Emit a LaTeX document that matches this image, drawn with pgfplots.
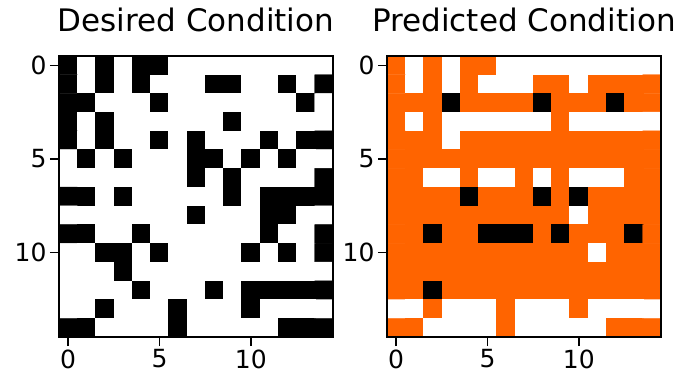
\documentclass[border=0pt]{standalone}
\usepackage{pgfplots}
\pgfplotsset{compat=1.18}
\usepackage{fontspec}
\setmainfont{DejaVu Sans}
\pgfplotsset{
  gridax/.style={
    scale only axis, width=274pt, height=281pt,
    xmin=-0.5, xmax=14.5, ymin=-0.5, ymax=14.5, y dir=reverse,
    enlargelimits=false, axis on top,
    xtick={0,5,10}, ytick={0,5,10}, tick pos=left,
    tick align=outside, major tick length=9pt,
    tick style={line width=1.4pt, black},
    axis line style={line width=1.4pt, black},
    tick label style={font=\fontsize{25}{30}\selectfont},
    /pgf/number format/assume math mode=true,
    title style={font=\fontsize{31}{37}\selectfont, anchor=base, at={(0.5,1)}, yshift=18pt},
    colormap={gridmap}{rgb255=(255,255,255) rgb255=(0,0,0) rgb255=(255,100,0)},
    colormap access=direct,
    anchor=south west,
  },
  cells/.style={matrix plot*, mesh/cols=15, point meta=explicit},
}
\begin{document}
\begin{tikzpicture}
\useasboundingbox (0,0) rectangle (680pt,379pt);
\begin{axis}[gridax, at={(59pt,42pt)}, title={Desired Condition}]
\addplot[cells] table[row sep=\\, meta=c] {
x y c\\
0 0 1\\ 1 0 0\\ 2 0 1\\ 3 0 0\\ 4 0 1\\ 5 0 1\\ 6 0 0\\ 7 0 0\\ 8 0 0\\ 9 0 0\\ 10 0 0\\ 11 0 0\\ 12 0 0\\ 13 0 0\\ 14 0 0\\
0 1 1\\ 1 1 0\\ 2 1 1\\ 3 1 0\\ 4 1 1\\ 5 1 0\\ 6 1 0\\ 7 1 0\\ 8 1 1\\ 9 1 1\\ 10 1 0\\ 11 1 0\\ 12 1 1\\ 13 1 0\\ 14 1 1\\
0 2 1\\ 1 2 1\\ 2 2 0\\ 3 2 0\\ 4 2 0\\ 5 2 1\\ 6 2 0\\ 7 2 0\\ 8 2 0\\ 9 2 0\\ 10 2 0\\ 11 2 0\\ 12 2 0\\ 13 2 1\\ 14 2 0\\
0 3 1\\ 1 3 0\\ 2 3 1\\ 3 3 0\\ 4 3 0\\ 5 3 0\\ 6 3 0\\ 7 3 0\\ 8 3 0\\ 9 3 1\\ 10 3 0\\ 11 3 0\\ 12 3 0\\ 13 3 0\\ 14 3 0\\
0 4 1\\ 1 4 0\\ 2 4 1\\ 3 4 0\\ 4 4 0\\ 5 4 1\\ 6 4 0\\ 7 4 1\\ 8 4 0\\ 9 4 0\\ 10 4 0\\ 11 4 1\\ 12 4 0\\ 13 4 1\\ 14 4 1\\
0 5 0\\ 1 5 1\\ 2 5 0\\ 3 5 1\\ 4 5 0\\ 5 5 0\\ 6 5 0\\ 7 5 1\\ 8 5 1\\ 9 5 0\\ 10 5 1\\ 11 5 0\\ 12 5 1\\ 13 5 0\\ 14 5 0\\
0 6 0\\ 1 6 0\\ 2 6 0\\ 3 6 0\\ 4 6 0\\ 5 6 0\\ 6 6 0\\ 7 6 1\\ 8 6 0\\ 9 6 1\\ 10 6 0\\ 11 6 0\\ 12 6 0\\ 13 6 0\\ 14 6 1\\
0 7 1\\ 1 7 1\\ 2 7 0\\ 3 7 1\\ 4 7 0\\ 5 7 0\\ 6 7 0\\ 7 7 0\\ 8 7 0\\ 9 7 1\\ 10 7 0\\ 11 7 1\\ 12 7 1\\ 13 7 1\\ 14 7 1\\
0 8 0\\ 1 8 0\\ 2 8 0\\ 3 8 0\\ 4 8 0\\ 5 8 0\\ 6 8 0\\ 7 8 1\\ 8 8 0\\ 9 8 0\\ 10 8 0\\ 11 8 1\\ 12 8 1\\ 13 8 0\\ 14 8 0\\
0 9 1\\ 1 9 1\\ 2 9 0\\ 3 9 0\\ 4 9 1\\ 5 9 0\\ 6 9 0\\ 7 9 0\\ 8 9 0\\ 9 9 0\\ 10 9 0\\ 11 9 1\\ 12 9 0\\ 13 9 0\\ 14 9 1\\
0 10 0\\ 1 10 0\\ 2 10 1\\ 3 10 1\\ 4 10 0\\ 5 10 1\\ 6 10 0\\ 7 10 0\\ 8 10 0\\ 9 10 0\\ 10 10 1\\ 11 10 0\\ 12 10 1\\ 13 10 0\\ 14 10 1\\
0 11 0\\ 1 11 0\\ 2 11 0\\ 3 11 1\\ 4 11 0\\ 5 11 0\\ 6 11 0\\ 7 11 0\\ 8 11 0\\ 9 11 0\\ 10 11 0\\ 11 11 0\\ 12 11 0\\ 13 11 0\\ 14 11 0\\
0 12 0\\ 1 12 0\\ 2 12 0\\ 3 12 0\\ 4 12 1\\ 5 12 0\\ 6 12 0\\ 7 12 0\\ 8 12 1\\ 9 12 0\\ 10 12 1\\ 11 12 1\\ 12 12 1\\ 13 12 1\\ 14 12 1\\
0 13 0\\ 1 13 0\\ 2 13 1\\ 3 13 0\\ 4 13 0\\ 5 13 0\\ 6 13 1\\ 7 13 0\\ 8 13 0\\ 9 13 0\\ 10 13 1\\ 11 13 0\\ 12 13 0\\ 13 13 0\\ 14 13 0\\
0 14 1\\ 1 14 1\\ 2 14 0\\ 3 14 0\\ 4 14 0\\ 5 14 0\\ 6 14 1\\ 7 14 0\\ 8 14 0\\ 9 14 0\\ 10 14 0\\ 11 14 0\\ 12 14 1\\ 13 14 1\\ 14 14 1\\
};
\end{axis}
\begin{axis}[gridax, at={(387pt,42pt)}, title={Predicted Condition}]
\addplot[cells] table[row sep=\\, meta=c] {
x y c\\
0 0 2\\ 1 0 0\\ 2 0 2\\ 3 0 0\\ 4 0 2\\ 5 0 2\\ 6 0 0\\ 7 0 0\\ 8 0 0\\ 9 0 0\\ 10 0 0\\ 11 0 0\\ 12 0 0\\ 13 0 0\\ 14 0 0\\
0 1 2\\ 1 1 0\\ 2 1 2\\ 3 1 0\\ 4 1 2\\ 5 1 0\\ 6 1 0\\ 7 1 0\\ 8 1 2\\ 9 1 2\\ 10 1 0\\ 11 1 2\\ 12 1 2\\ 13 1 2\\ 14 1 2\\
0 2 2\\ 1 2 2\\ 2 2 2\\ 3 2 1\\ 4 2 2\\ 5 2 2\\ 6 2 2\\ 7 2 2\\ 8 2 1\\ 9 2 2\\ 10 2 2\\ 11 2 2\\ 12 2 1\\ 13 2 2\\ 14 2 2\\
0 3 2\\ 1 3 0\\ 2 3 2\\ 3 3 0\\ 4 3 0\\ 5 3 0\\ 6 3 0\\ 7 3 0\\ 8 3 0\\ 9 3 2\\ 10 3 0\\ 11 3 0\\ 12 3 0\\ 13 3 0\\ 14 3 0\\
0 4 2\\ 1 4 2\\ 2 4 2\\ 3 4 0\\ 4 4 2\\ 5 4 2\\ 6 4 2\\ 7 4 2\\ 8 4 2\\ 9 4 2\\ 10 4 2\\ 11 4 2\\ 12 4 2\\ 13 4 2\\ 14 4 2\\
0 5 2\\ 1 5 2\\ 2 5 2\\ 3 5 2\\ 4 5 2\\ 5 5 2\\ 6 5 2\\ 7 5 2\\ 8 5 2\\ 9 5 2\\ 10 5 2\\ 11 5 2\\ 12 5 2\\ 13 5 2\\ 14 5 2\\
0 6 2\\ 1 6 2\\ 2 6 0\\ 3 6 0\\ 4 6 2\\ 5 6 0\\ 6 6 0\\ 7 6 2\\ 8 6 0\\ 9 6 2\\ 10 6 0\\ 11 6 0\\ 12 6 0\\ 13 6 2\\ 14 6 2\\
0 7 2\\ 1 7 2\\ 2 7 2\\ 3 7 2\\ 4 7 1\\ 5 7 2\\ 6 7 2\\ 7 7 2\\ 8 7 1\\ 9 7 2\\ 10 7 1\\ 11 7 2\\ 12 7 2\\ 13 7 2\\ 14 7 2\\
0 8 2\\ 1 8 2\\ 2 8 2\\ 3 8 2\\ 4 8 2\\ 5 8 2\\ 6 8 2\\ 7 8 2\\ 8 8 2\\ 9 8 2\\ 10 8 0\\ 11 8 2\\ 12 8 2\\ 13 8 2\\ 14 8 2\\
0 9 2\\ 1 9 2\\ 2 9 1\\ 3 9 2\\ 4 9 2\\ 5 9 1\\ 6 9 1\\ 7 9 1\\ 8 9 2\\ 9 9 1\\ 10 9 2\\ 11 9 2\\ 12 9 2\\ 13 9 1\\ 14 9 2\\
0 10 2\\ 1 10 2\\ 2 10 2\\ 3 10 2\\ 4 10 2\\ 5 10 2\\ 6 10 2\\ 7 10 2\\ 8 10 2\\ 9 10 2\\ 10 10 2\\ 11 10 0\\ 12 10 2\\ 13 10 2\\ 14 10 2\\
0 11 2\\ 1 11 2\\ 2 11 2\\ 3 11 2\\ 4 11 2\\ 5 11 2\\ 6 11 2\\ 7 11 2\\ 8 11 2\\ 9 11 2\\ 10 11 2\\ 11 11 2\\ 12 11 2\\ 13 11 2\\ 14 11 2\\
0 12 2\\ 1 12 2\\ 2 12 1\\ 3 12 2\\ 4 12 2\\ 5 12 2\\ 6 12 2\\ 7 12 2\\ 8 12 2\\ 9 12 2\\ 10 12 2\\ 11 12 2\\ 12 12 2\\ 13 12 2\\ 14 12 2\\
0 13 0\\ 1 13 0\\ 2 13 2\\ 3 13 0\\ 4 13 0\\ 5 13 0\\ 6 13 2\\ 7 13 0\\ 8 13 0\\ 9 13 0\\ 10 13 2\\ 11 13 0\\ 12 13 0\\ 13 13 0\\ 14 13 0\\
0 14 2\\ 1 14 2\\ 2 14 0\\ 3 14 0\\ 4 14 0\\ 5 14 0\\ 6 14 2\\ 7 14 0\\ 8 14 0\\ 9 14 0\\ 10 14 0\\ 11 14 0\\ 12 14 2\\ 13 14 2\\ 14 14 2\\
};
\end{axis}
\end{tikzpicture}
\end{document}
